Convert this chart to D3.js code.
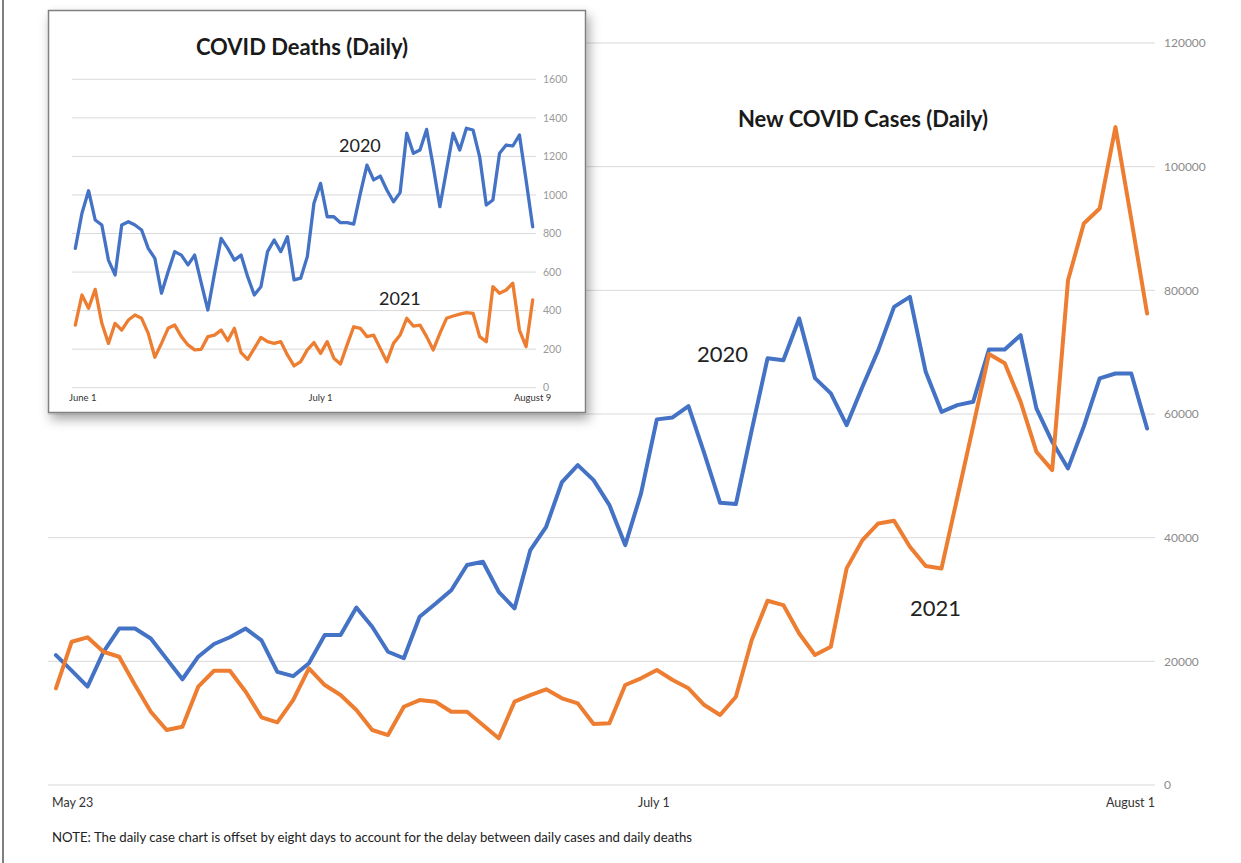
<!DOCTYPE html>
<html><head><meta charset="utf-8">
<script src="https://cdn.jsdelivr.net/npm/d3@7/dist/d3.min.js"></script>
<style>body{margin:0;background:#fff}svg{display:block;font-family:Lato,"Open Sans",sans-serif}</style>
</head><body><svg id="c" width="1241" height="863"></svg>
<script>
// ---- Main chart: New COVID cases (daily), 70 days starting May 23 ----
const caseDays = d3.range(70);
const cases2020 = [21000,18500,15900,21500,25300,25300,23700,20400,17100,20750,
  22800,23900,25300,23400,18300,17600,19700,24250,24250,28700,
  25600,21550,20500,27200,29300,31500,35570,36100,31250,28560,
  38000,41760,49000,51740,49300,45270,38800,47160,59130,59450,
  61280,53630,45640,45430,57400,69000,68700,75450,65800,63330,
  58200,64400,70330,77330,78950,66820,60350,61440,61970,70430,
  70430,72750,60900,55500,51200,58000,65750,66550,66550,57650];
const cases2021 = [15630,23170,23880,21550,20740,16170,11850,8890,9430,15900,
  18480,18480,15090,10950,10140,13740,18870,16170,14550,12130,
  8890,8080,12660,13740,13470,11850,11850,9700,7550,13470,
  14550,15470,14020,13200,9860,9970,16170,17250,18590,16980,
  15630,12930,11320,14280,23440,29800,29100,24500,21020,22360,
  35030,39600,42300,42730,38530,35410,35030,46500,58000,69700,
  68200,62000,53900,50930,81630,90800,93230,106400,91500,76260];
const caseTicks = [0,20000,40000,60000,80000,100000,120000];
const caseXLabels = [{label:"May 23", day:0},{label:"July 1", day:38},{label:"August 1", day:69}];

// ---- Inset: COVID deaths (daily), 70 days June 1 – August 9 ----
const deathDays = d3.range(70);
const deaths2020 = [723,905,1022,870,844,662,585,844,861,844,
  818,723,671,490,602,706,688,637,688,542,
  403,593,775,723,662,688,576,481,524,706,
  766,706,783,559,568,680,957,1060,887,887,
  856,856,849,1008,1155,1078,1098,1026,965,1012,
  1320,1216,1233,1340,1147,939,1129,1320,1233,1346,
  1337,1198,948,974,1216,1259,1254,1311,1078,835];
const deaths2021 = [325,481,412,510,334,230,334,299,351,377,
  360,282,158,230,308,325,265,222,196,199,
  265,273,299,244,308,182,147,204,261,239,
  230,239,170,113,135,196,234,178,239,153,
  123,222,316,308,265,273,204,135,230,273,
  360,320,325,265,196,282,360,372,382,389,
  386,265,239,524,490,507,542,299,213,455];
const deathTicks = [0,200,400,600,800,1000,1200,1400,1600];
const deathXLabels = [{label:"June 1", day:0},{label:"July 1", day:37},{label:"August 9", day:69}];

const note = "NOTE: The daily case chart is offset by eight days to account for the delay between daily cases and daily deaths";
const BLUE = "#4472C4", ORANGE = "#ED7D31", GRID = "#d9d9d9";

const svg = d3.select("#c");
const defs = svg.append("defs");
const f = defs.append("filter").attr("id","sh").attr("x","-10%").attr("y","-10%").attr("width","125%").attr("height","130%");
f.append("feDropShadow").attr("dx",3).attr("dy",6).attr("stdDeviation",6).attr("flood-color","#000").attr("flood-opacity",0.35);

svg.append("rect").attr("width",1241).attr("height",863).attr("fill","#fff");
svg.append("line").attr("x1",3).attr("x2",3).attr("y1",0).attr("y2",863).attr("stroke","#555").attr("stroke-width",1.5);

// Main chart
const xM = d3.scalePoint().domain(caseDays).range([48,1155]).padding(0.5);
const yM = d3.scaleLinear().domain([0,120000]).range([785,43]);
const gM = svg.append("g");
gM.selectAll("line.grid").data(caseTicks).join("line")
  .attr("x1",48).attr("x2",1155).attr("y1",d=>yM(d)).attr("y2",d=>yM(d))
  .attr("stroke",GRID).attr("stroke-width",1);
gM.selectAll("text.yt").data(caseTicks).join("text")
  .attr("x",1164).attr("y",d=>yM(d)).attr("dy","0.35em")
  .attr("font-size",12).attr("fill","#8c8c8c").text(d=>d);
const stepM = xM.step();
gM.selectAll("text.xt").data(caseXLabels).join("text")
  .attr("x",(d,i)=> i===0 ? xM(d.day)-stepM/2+4 : i===caseXLabels.length-1 ? xM(d.day)+stepM/2 : xM(d.day)-3)
  .attr("text-anchor",(d,i)=> i===0 ? "start" : i===caseXLabels.length-1 ? "end" : "middle")
  .attr("y",807).attr("font-size",12.5).attr("fill","#333").text(d=>d.label);
const lineM = d3.line().x((d,i)=>xM(caseDays[i])).y(d=>yM(d));
[[cases2020,BLUE],[cases2021,ORANGE]].forEach(([s,c])=>{
  gM.append("path").attr("d",lineM(s)).attr("fill","none").attr("stroke",c)
    .attr("stroke-width",4).attr("stroke-linejoin","round").attr("stroke-linecap","round");
});
gM.append("text").attr("x",863).attr("y",127).attr("text-anchor","middle")
  .attr("font-size",22).attr("font-weight","bold").attr("fill","#1a1a1a").text("New COVID Cases (Daily)");
gM.append("text").attr("x",697).attr("y",362).attr("font-size",22).attr("fill","#222").text("2020");
gM.append("text").attr("x",910).attr("y",616).attr("font-size",22).attr("fill","#222").text("2021");
svg.append("text").attr("x",52).attr("y",842).attr("font-size",13.2).attr("fill","#222").text(note);

// Inset
const gI = svg.append("g");
gI.append("rect").attr("x",48.5).attr("y",10.5).attr("width",537).attr("height",402)
  .attr("fill","#fff").attr("stroke","#808080").attr("stroke-width",1.5).attr("filter","url(#sh)");
const xI = d3.scalePoint().domain(deathDays).range([72,536]).padding(0.5);
const yI = d3.scaleLinear().domain([0,1600]).range([387.7,79.3]);
gI.selectAll("line.grid").data(deathTicks).join("line")
  .attr("x1",72).attr("x2",536).attr("y1",d=>yI(d)).attr("y2",d=>yI(d))
  .attr("stroke",GRID).attr("stroke-width",1);
gI.selectAll("text.yt").data(deathTicks).join("text")
  .attr("x",543).attr("y",d=>yI(d)).attr("dy","0.35em")
  .attr("font-size",10.5).attr("fill","#9a9a9a").text(d=>d);
const stepI = xI.step();
gI.selectAll("text.xt").data(deathXLabels).join("text")
  .attr("x",(d,i)=> i===0 ? xI(d.day)-stepI/2-3 : xI(d.day))
  .attr("text-anchor",(d,i)=> i===0 ? "start" : "middle")
  .attr("y",401).attr("font-size",9.5).attr("fill","#333").text(d=>d.label);
const lineI = d3.line().x((d,i)=>xI(deathDays[i])).y(d=>yI(d));
[[deaths2020,BLUE],[deaths2021,ORANGE]].forEach(([s,c])=>{
  gI.append("path").attr("d",lineI(s)).attr("fill","none").attr("stroke",c)
    .attr("stroke-width",3.3).attr("stroke-linejoin","round").attr("stroke-linecap","round");
});
gI.append("text").attr("x",302).attr("y",55).attr("text-anchor","middle")
  .attr("font-size",22).attr("font-weight","bold").attr("fill","#1a1a1a").text("COVID Deaths (Daily)");
gI.append("text").attr("x",339).attr("y",152).attr("font-size",18).attr("fill","#222").text("2020");
gI.append("text").attr("x",379).attr("y",305).attr("font-size",18).attr("fill","#222").text("2021");
</script></body></html>
